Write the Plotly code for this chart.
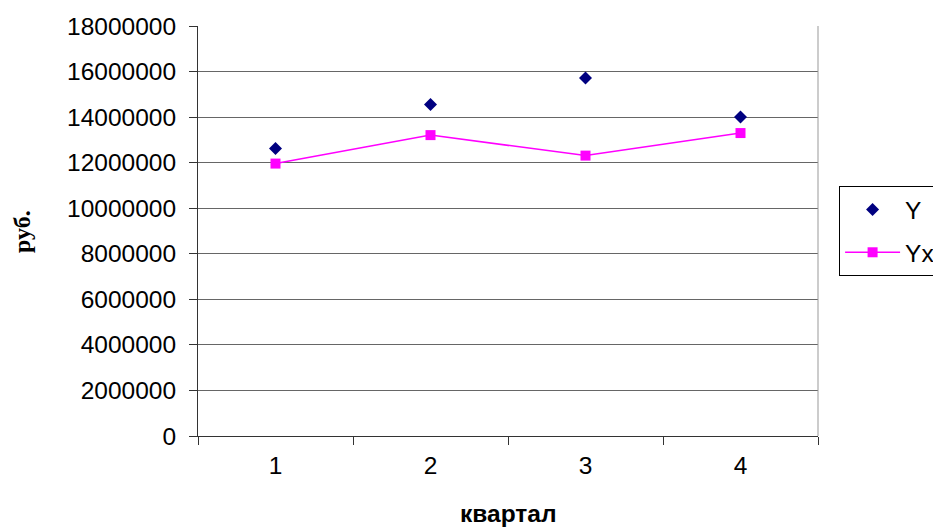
import plotly.graph_objects as go

quarters = ["1", "2", "3", "4"]
y_actual = [12620000, 14550000, 15720000, 14000000]
y_model = [11960000, 13210000, 12310000, 13300000]
y_ticks = [0, 2000000, 4000000, 6000000, 8000000, 10000000, 12000000, 14000000, 16000000, 18000000]

fig = go.Figure()
fig.add_trace(go.Scatter(
    x=quarters, y=y_actual, name="Y", mode="markers", legendgroup="a",
    marker=dict(symbol="diamond", color="#000080", size=10),
))
fig.add_trace(go.Scatter(
    x=quarters, y=y_model, name="Yx", mode="lines+markers", legendgroup="b",
    marker=dict(symbol="square", color="#FF00FF", size=10),
    line=dict(color="#FF00FF", width=1.5),
))

fig.update_layout(
    width=941, height=531,
    margin=dict(l=190, r=131, t=18, b=103, autoexpand=False),
    paper_bgcolor="white", plot_bgcolor="white",
    font=dict(family="Liberation Sans, Arial", size=24.5, color="black"),
    showlegend=True,
    legend=dict(
        x=1.034, y=0.5, xanchor="left", yanchor="middle",
        bordercolor="black", borderwidth=1, bgcolor="white",
        font=dict(size=24.5), traceorder="grouped", tracegroupgap=8,
        itemwidth=55,
    ),
    xaxis=dict(
        type="category", range=[-0.5, 3.5], tickson="boundaries", ticks="outside", ticklen=8,
        tickcolor="#333333", showline=True, linecolor="#333333", linewidth=1,
        showgrid=False, zeroline=False, ticklabelstandoff=8,
    ),
    yaxis=dict(
        range=[0, 18000000], tickvals=y_ticks, ticktext=[str(v) for v in y_ticks],
        ticks="outside", ticklen=8, tickcolor="#333333",
        showline=True, linecolor="#333333", linewidth=1,
        showgrid=True, gridcolor="#666666", gridwidth=1, zeroline=False,
        ticklabelstandoff=8,
    ),
    annotations=[
        dict(text="<b>квартал</b>", xref="paper", yref="paper", x=0.5, y=-0.188,
             xanchor="center", yanchor="middle", showarrow=False,
             font=dict(family="Liberation Sans, Arial", size=24.5)),
        dict(text="<b>руб.</b>", xref="paper", yref="paper", x=-0.284, y=0.5,
             xanchor="center", yanchor="middle", showarrow=False, textangle=-90,
             font=dict(family="Liberation Serif, Times New Roman", size=24)),
    ],
    shapes=[dict(type="line", xref="paper", yref="paper", x0=1, x1=1, y0=0, y1=1,
                 line=dict(color="#999999", width=1))],
)

fig.write_html("out.html")
